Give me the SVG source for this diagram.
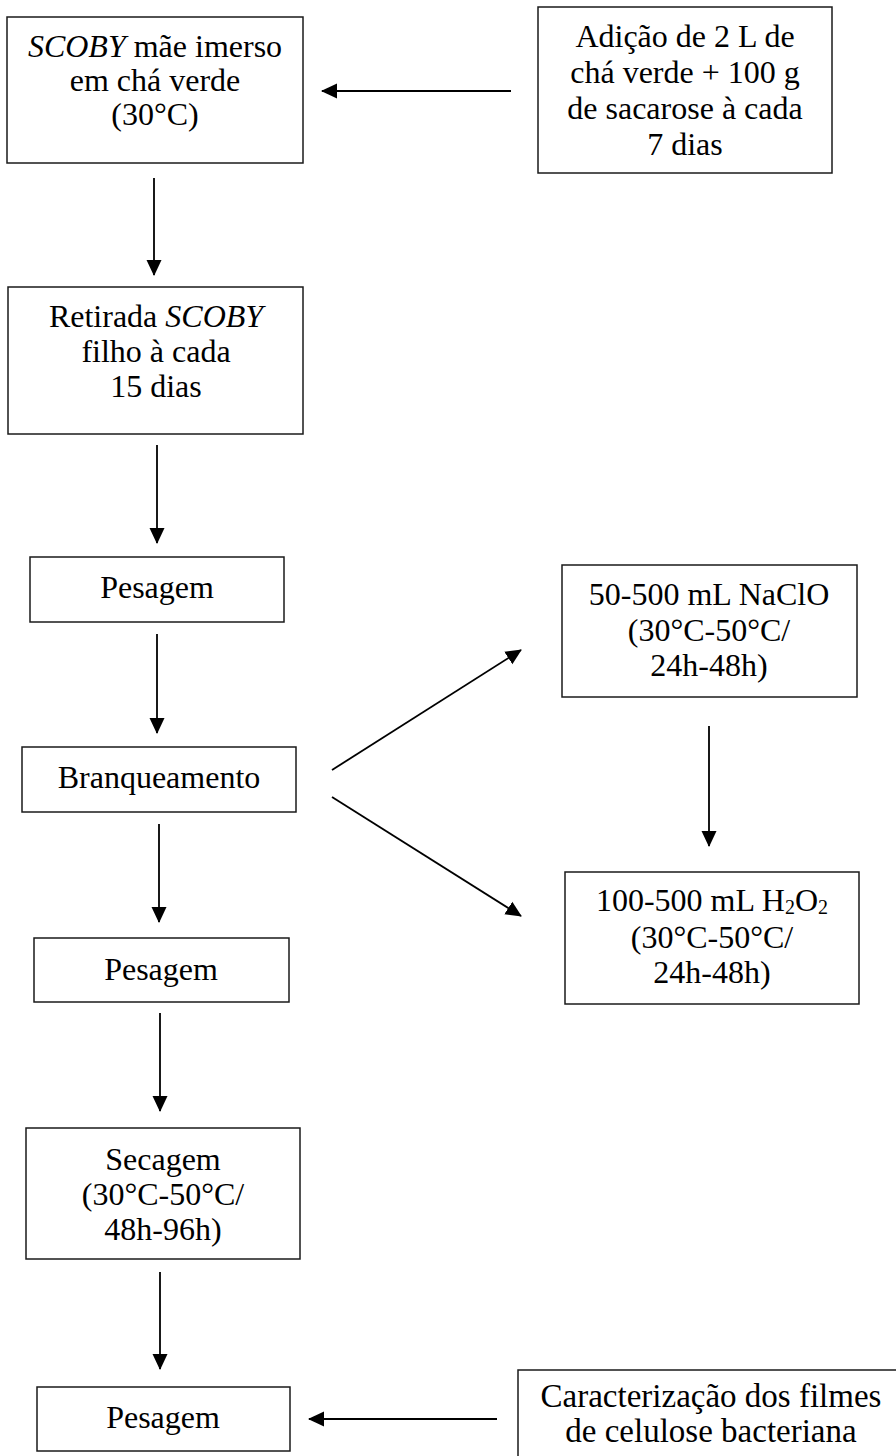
<svg xmlns="http://www.w3.org/2000/svg" width="896" height="1456" viewBox="0 0 896 1456">
<style>
  rect.box { fill: #fff; stroke: #1a1a1a; stroke-width: 1.5; }
  text { font-family: "Liberation Serif", "Times New Roman", serif; font-size: 32px; fill: #000; text-anchor: middle; }
  .it { font-style: italic; }
  .lg { font-size: 33px; }
  .sub { font-size: 20px; }
  line.c { stroke: #000; stroke-width: 1.8; marker-end: url(#ah); }
</style>
<defs>
  <marker id="ah" markerUnits="userSpaceOnUse" markerWidth="16" markerHeight="16" viewBox="0 0 16 16" refX="15" refY="8" orient="auto">
    <path d="M0,0.5 L16,8 L0,15.5 Z" fill="#000"/>
  </marker>
</defs>
<rect width="896" height="1456" fill="#fff"/>

<g id="n-scoby-mae">
  <rect class="box" x="7" y="17" width="296" height="146"/>
  <text x="155" y="57"><tspan class="it">SCOBY</tspan> mãe imerso</text>
  <text x="155" y="91">em chá verde</text>
  <text x="155" y="125">(30°C)</text>
</g>

<g id="n-adicao">
  <rect class="box" x="538" y="7" width="294" height="166"/>
  <text x="685" y="47">Adição de 2 L de</text>
  <text x="685" y="83">chá verde + 100 g</text>
  <text x="685" y="119">de sacarose à cada</text>
  <text x="685" y="155">7 dias</text>
</g>

<g id="n-retirada">
  <rect class="box" x="8" y="287" width="295" height="147"/>
  <text x="156" y="327">Retirada <tspan class="it">SCOBY</tspan></text>
  <text x="156" y="362">filho à cada</text>
  <text x="156" y="397">15 dias</text>
</g>

<g id="n-pesagem1">
  <rect class="box" x="30" y="557" width="254" height="65"/>
  <text x="157" y="598">Pesagem</text>
</g>

<g id="n-branqueamento">
  <rect class="box" x="22" y="747" width="274" height="65"/>
  <text x="159" y="788">Branqueamento</text>
</g>

<g id="n-naclo">
  <rect class="box" x="562" y="565" width="295" height="132"/>
  <text x="709" y="605">50-500 mL NaClO</text>
  <text x="709" y="641">(30°C-50°C/</text>
  <text x="709" y="676">24h-48h)</text>
</g>

<g id="n-h2o2">
  <rect class="box" x="565" y="872" width="294" height="132"/>
  <text x="712" y="911">100-500 mL H<tspan class="sub" dy="3">2</tspan><tspan dy="-3">O</tspan><tspan class="sub" dy="3">2</tspan></text>
  <text x="712" y="948">(30°C-50°C/</text>
  <text x="712" y="983">24h-48h)</text>
</g>

<g id="n-pesagem2">
  <rect class="box" x="34" y="938" width="255" height="64"/>
  <text x="161" y="980">Pesagem</text>
</g>

<g id="n-secagem">
  <rect class="box" x="26" y="1128" width="274" height="131"/>
  <text x="163" y="1170">Secagem</text>
  <text x="163" y="1205">(30°C-50°C/</text>
  <text x="163" y="1240">48h-96h)</text>
</g>

<g id="n-pesagem3">
  <rect class="box" x="37" y="1387" width="253" height="64"/>
  <text x="163" y="1428">Pesagem</text>
</g>

<g id="n-caracterizacao">
  <rect class="box" x="518" y="1370" width="390" height="100"/>
  <text class="lg" x="711" y="1407">Caracterização dos filmes</text>
  <text class="lg" x="711" y="1442">de celulose bacteriana</text>
</g>

<g id="connectors">
  <line class="c" x1="511" y1="91" x2="322" y2="91"/>
  <line class="c" x1="154" y1="178" x2="154" y2="275"/>
  <line class="c" x1="157" y1="445" x2="157" y2="543"/>
  <line class="c" x1="157" y1="634" x2="157" y2="733"/>
  <line class="c" x1="332" y1="770" x2="521" y2="650"/>
  <line class="c" x1="332" y1="797" x2="521" y2="916"/>
  <line class="c" x1="709" y1="726" x2="709" y2="846"/>
  <line class="c" x1="159" y1="824" x2="159" y2="922"/>
  <line class="c" x1="160" y1="1013" x2="160" y2="1111"/>
  <line class="c" x1="160" y1="1272" x2="160" y2="1369"/>
  <line class="c" x1="497" y1="1419" x2="309" y2="1419"/>
</g>
</svg>
